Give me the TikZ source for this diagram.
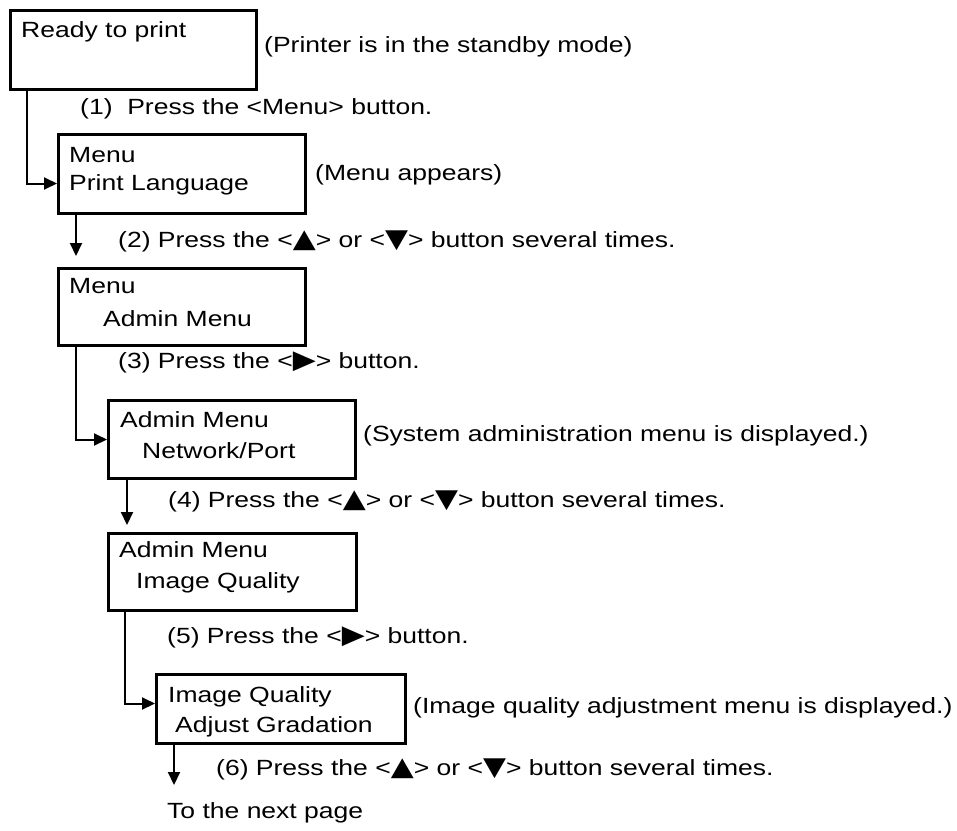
\documentclass[tikz,border=0pt]{standalone}
\usepackage{fontspec}
\setmainfont{Liberation Sans}[FakeStretch=1.205]
\newfontfamily\symfont{DejaVu Sans}[FakeStretch=1.15]
\usetikzlibrary{arrows.meta}
\newcommand{\tup}{{\symfont\fontsize{26}{26}\selectfont ▲}}
\newcommand{\tdn}{{\symfont\fontsize{26}{26}\selectfont ▼}}
\newcommand{\trt}{{\symfont\fontsize{26}{26}\selectfont ▶}}
\begin{document}
\begin{tikzpicture}[x=1pt,y=-1pt,
  box/.style={draw,line width=3pt,rectangle,inner sep=0pt,anchor=north west},
  txt/.style={inner sep=0pt,anchor=base west,font=\fontsize{22}{26}\selectfont},
  conn/.style={line width=2pt,-{Triangle[length=13pt,width=12pt]}}]
\useasboundingbox (0,0) rectangle (957,830);
% boxes
\node[box,minimum width=246pt,minimum height=79pt] (b1) at (9,9) {};
\node[box,minimum width=247pt,minimum height=79pt] (b2) at (57,133) {};
\node[box,minimum width=247pt,minimum height=77pt] (b3) at (57,267) {};
\node[box,minimum width=247pt,minimum height=78pt] (b4) at (107,399) {};
\node[box,minimum width=248pt,minimum height=77pt] (b5) at (107,532) {};
\node[box,minimum width=249pt,minimum height=69pt] (b6) at (155,673) {};
% box texts
\node[txt] (t1) at (21,37) {Ready to print};
\node[txt] (t2a) at (69,162) {Menu};
\node[txt] (t2b) at (69,190) {Print Language};
\node[txt] (t3a) at (69,293) {Menu};
\node[txt] (t3b) at (103,326) {Admin Menu};
\node[txt] (t4a) at (120,427) {Admin Menu};
\node[txt] (t4b) at (142,458) {Network/Port};
\node[txt] (t5a) at (119,557) {Admin Menu};
\node[txt] (t5b) at (136,588) {Image Quality};
\node[txt] (t6a) at (168,702) {Image Quality};
\node[txt] (t6b) at (175,732) {Adjust Gradation};
% side notes
\node[txt] (n1) at (264,52) {(Printer is in the standby mode)};
\node[txt] (n2) at (315,180) {(Menu appears)};
\node[txt] (n4) at (363,441) {(System administration menu is displayed.)};
\node[txt] (n6) at (413,713) {(Image quality adjustment menu is displayed.)};
% step labels
\node[txt] (s1) at (80,114) {(1)\ \ Press the <Menu> button.};
\node[txt] (s2) at (118,247) {(2) Press the <\tup> or <\tdn> button several times.};
\node[txt] (s3) at (118,368) {(3) Press the <\trt> button.};
\node[txt] (s4) at (168,507) {(4) Press the <\tup> or <\tdn> button several times.};
\node[txt] (s5) at (167,643) {(5) Press the <\trt> button.};
\node[txt] (s6) at (216,775) {(6) Press the <\tup> or <\tdn> button several times.};
\node[txt] (next) at (167,818) {To the next page};
\coordinate (e6) at (174,785);
% connectors
\draw[conn] ([xshift=18pt]b1.south west) |- ([yshift=-9.5pt]b2.west);
\draw[conn] ([xshift=19pt]b2.south west) -- ([xshift=19pt,yshift=11pt]b3.north west);
\draw[conn] ([xshift=19pt]b3.south west) |- (b4.west);
\draw[conn] ([xshift=20pt]b4.south west) -- ([xshift=20pt,yshift=7pt]b5.north west);
\draw[conn] ([xshift=18pt]b5.south west) |- ([yshift=5.5pt]b6.west);
\draw[conn] ([xshift=19pt]b6.south west) -- (e6);
\end{tikzpicture}
\end{document}
